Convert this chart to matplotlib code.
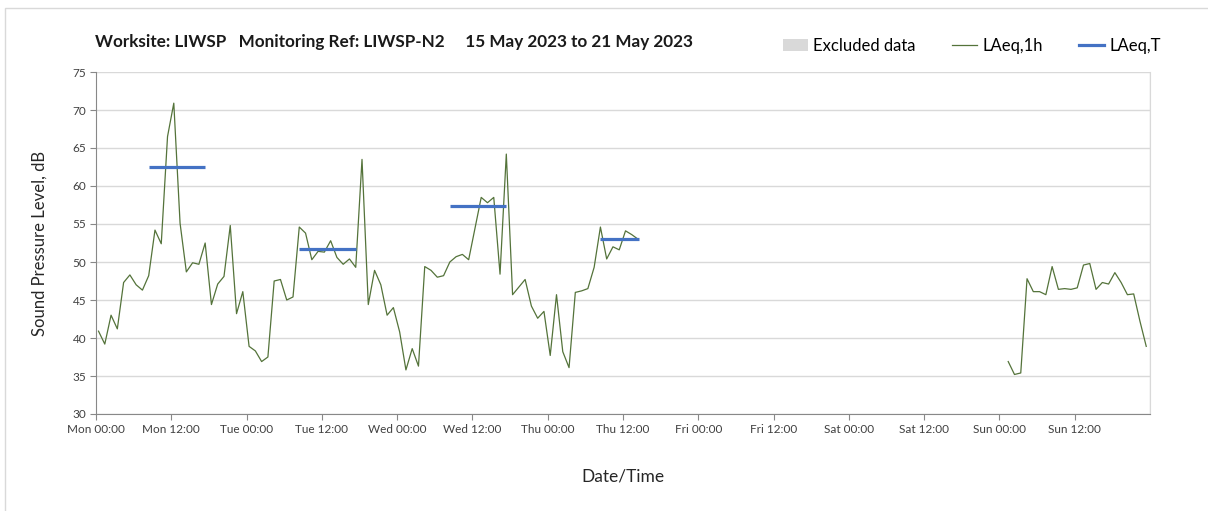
import numpy as np
import matplotlib.pyplot as plt
from matplotlib.patches import Rectangle
from matplotlib.lines import Line2D

plt.rcParams['font.family'] = ['Lato', 'DejaVu Sans']

# hourly LAeq,1h readings, hour index from Mon 00:00
laeq_week1 = [40.9, 39.2, 43.0, 41.2, 47.3, 48.3, 47.0, 46.3, 48.2, 54.2,
              52.4, 66.5, 70.9, 55.1, 48.7, 49.9, 49.7, 52.5, 44.4, 47.1,
              48.1, 54.8, 43.2, 46.1, 38.9, 38.3, 36.9, 37.5, 47.5, 47.7,
              45.0, 45.4, 54.6, 53.8, 50.3, 51.4, 51.3, 52.8, 50.6, 49.7,
              50.4, 49.3, 63.5, 44.4, 48.9, 47.0, 43.0, 44.0, 40.8, 35.8,
              38.6, 36.3, 49.4, 48.9, 48.0, 48.2, 50.0, 50.7, 51.0, 50.3,
              54.4, 58.5, 57.8, 58.5, 48.4, 64.2, 45.7, 46.7, 47.7, 44.2,
              42.6, 43.5, 37.7, 45.7, 38.2, 36.1, 46.0, 46.2, 46.5, 49.3,
              54.6, 50.4, 52.0, 51.6, 54.1, 53.6, 53.0]
laeq_sunday = [36.9, 35.2, 35.4, 47.8, 46.1, 46.1, 45.7, 49.4, 46.4, 46.5,
               46.4, 46.6, 49.6, 49.8, 46.4, 47.3, 47.1, 48.6, 47.3, 45.7,
               45.8, 42.2, 38.9]
sunday_start = 145

# LAeq,T periods: (start hour, end hour, level)
laeq_t_start = [8.4, 32.4, 56.4, 80.4]
laeq_t_end = [17.4, 41.4, 65.4, 86.6]
laeq_t_level = [62.5, 51.75, 57.4, 53.0]

tick_labels = ['Mon 00:00', 'Mon 12:00', 'Tue 00:00', 'Tue 12:00', 'Wed 00:00',
               'Wed 12:00', 'Thu 00:00', 'Thu 12:00', 'Fri 00:00', 'Fri 12:00',
               'Sat 00:00', 'Sat 12:00', 'Sun 00:00', 'Sun 12:00']

values = np.full(168, np.nan)
values[:len(laeq_week1)] = laeq_week1
values[sunday_start:sunday_start + len(laeq_sunday)] = laeq_sunday
hours = np.arange(168) + 0.4

fig = plt.figure(figsize=(12.08, 5.11), dpi=100)
fig.patches.append(Rectangle((5 / 1208, -0.01), 1.0, 1 - 8 / 511 + 0.01, transform=fig.transFigure,
                             fill=False, edgecolor='#d9d9d9', lw=1.0))
ax = fig.add_axes([96 / 1208, 1 - 414 / 511, (1150 - 96) / 1208, (414 - 72) / 511])

ax.plot(hours, values, color='#54733a', lw=0.9)
for s, e, v in zip(laeq_t_start, laeq_t_end, laeq_t_level):
    ax.plot([s, e], [v, v], color='#4472c4', lw=2.3, solid_capstyle='butt')

ax.set_xlim(0, 168)
ax.set_ylim(30, 75)
ax.set_yticks(np.arange(30, 76, 5))
ax.set_xticks(np.arange(0, 168, 12))
ax.set_xticklabels(tick_labels)
ax.set_xticks(np.arange(0, 169, 24), minor=True)
ax.tick_params(axis='x', which='minor', length=0)
ax.grid(axis='x', which='minor', color='#d9d9d9', lw=1.0)
ax.grid(axis='y', which='major', color='#d9d9d9', lw=1.0)
ax.set_axisbelow(True)
ax.tick_params(axis='both', which='major', length=4, color='#888888',
               labelsize=8.5, labelcolor='#404040', pad=3)
for side in ['left', 'bottom']:
    ax.spines[side].set_color('#888888')
ax.spines['top'].set_visible(False)
ax.spines['right'].set_color('#d9d9d9')

ax.set_ylabel('Sound Pressure Level, dB', fontsize=12, color='#262626', labelpad=18)
ax.set_xlabel('Date/Time', fontsize=12.5, color='#262626', labelpad=24)

fig.text(95 / 1208, 1 - 42 / 511,
         'Worksite: LIWSP   Monitoring Ref: LIWSP-N2     15 May 2023 to 21 May 2023',
         fontsize=12.3, fontweight='bold', ha='left', va='center', color='#1a1a1a')

handles = [Rectangle((0, 0), 1, 1, facecolor='#d9d9d9', edgecolor='none'),
           Line2D([], [], color='#54733a', lw=0.9),
           Line2D([], [], color='#4472c4', lw=2.3)]
fig.legend(handles, ['Excluded data', 'LAeq,1h', 'LAeq,T'], loc='center left',
           bbox_to_anchor=(768 / 1208, 1 - 46 / 511), ncol=3, frameon=False,
           fontsize=12, handlelength=1.5, handletextpad=0.3, columnspacing=2.2)

fig.savefig('out.png', dpi=100)
